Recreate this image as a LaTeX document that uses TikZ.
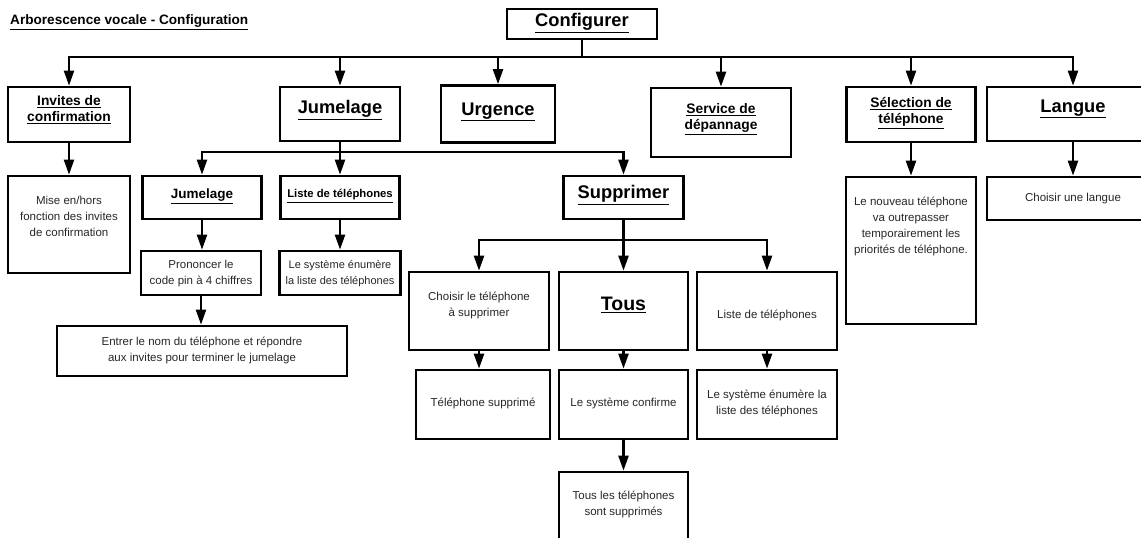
\documentclass[tikz,border=0pt]{standalone}
\usepackage{fontspec}
\setmainfont{Liberation Sans}
\usetikzlibrary{arrows.meta}
\newcommand\mkbox[5]{\node[box, minimum width=#4pt, minimum height=#5pt] (#1) at (#2,#3) {};}
\begin{document}
\begin{tikzpicture}[x=1pt,y=-1pt,
  box/.style={draw, line width=2.7pt, rectangle, inner sep=0pt},
  conn/.style={line width=2.3pt},
  arr/.style={line width=2.3pt, -{Triangle[length=15pt,width=10pt]}},
  big/.style={font=\fontsize{18.3}{20}\selectfont\bfseries, inner sep=0pt},
  mid/.style={font=\fontsize{13.8}{16}\selectfont\bfseries, align=center, inner sep=0pt},
  txt/.style={font=\fontsize{11.5}{16}\selectfont, align=center, text=black!85, inner sep=0pt},
]
\useasboundingbox (0,0) rectangle (1141,538);
\clip (0,0) rectangle (1141,538);

% title
\node[anchor=west, font=\fontsize{13.6}{15}\selectfont\bfseries, inner sep=0pt] (title) at (10,22) {\underline{Arborescence vocale - Configuration}};

% boxes
\mkbox{conf}{582}{24}{150}{30}
\mkbox{inv}{69}{114.5}{122}{55}
\mkbox{jum}{340}{114}{120}{54}
\mkbox{urg}{498}{114}{114}{57}
\mkbox{serv}{721}{122.5}{140}{69}
\mkbox{sel}{911}{114.5}{129}{55}
\mkbox{lang}{1073}{114}{172}{54}
\mkbox{mise}{69}{224.5}{122}{97}
\mkbox{sjum}{202}{197.5}{119}{43}
\mkbox{sliste}{340}{197.5}{119}{43}
\mkbox{supp}{623.5}{197.5}{120}{43}
\mkbox{nouv}{911}{250.5}{130}{147}
\mkbox{clang}{1073}{198.5}{172}{43}
\mkbox{pron}{201}{273}{120}{44}
\mkbox{enum}{340}{273}{121}{44}
\mkbox{entrer}{202}{351}{290}{50}
\mkbox{choisir}{479}{311}{140}{78}
\mkbox{tous}{623.5}{311}{129}{78}
\mkbox{liste2}{767}{311}{140}{78}
\mkbox{tsupp}{483}{404.5}{134}{69}
\mkbox{confirme}{623.5}{404.5}{129}{69}
\mkbox{enum2}{767}{404.5}{140}{69}
\mkbox{tles}{623.5}{520}{129}{96}

% texts
\node[big] (tconf) at (582,23) {\underline{Configurer}};
\node[mid] (tinv) at (69,110) {\underline{Invites de}\\\underline{confirmation}};
\node[big] (tjum) at (340,110) {\underline{Jumelage}};
\node[big] (turg) at (498,112) {\underline{Urgence}};
\node[mid] (tserv) at (721,119) {\underline{Service de}\\\underline{dépannage}};
\node[mid] (tsel) at (911,113) {\underline{Sélection de}\\\underline{téléphone}};
\node[big] (tlang) at (1073,109) {\underline{Langue}};
\node[txt] (tmise) at (69,216) {Mise en/hors\\fonction des invites\\de confirmation};
\node[font=\fontsize{13.5}{15}\selectfont\bfseries, inner sep=0pt] (tsjum) at (202,196) {\underline{Jumelage}};
\node[font=\fontsize{11.3}{13}\selectfont\bfseries, inner sep=0pt] (tsliste) at (340,196) {\underline{Liste de téléphones}};
\node[big] (tsupp2) at (623.5,195) {\underline{Supprimer}};
\node[txt] (tnouv) at (911,226) {Le nouveau téléphone\\va outrepasser\\temporairement les\\priorités de téléphone.};
\node[txt] (tclang) at (1073,199) {Choisir une langue};
\node[txt] (tpron) at (201,274) {Prononcer le\\code pin à 4 chiffres};
\node[txt, font=\fontsize{11}{16}\selectfont] (tenum) at (340,274) {Le système énumère\\la liste des téléphones};
\node[txt] (tentrer) at (202,350) {Entrer le nom du téléphone et répondre\\aux invites pour terminer le jumelage};
\node[txt] (tchoisir) at (479,305) {Choisir le téléphone\\à supprimer};
\node[font=\fontsize{19.5}{21}\selectfont\bfseries, inner sep=0pt] (ttous) at (623.5,305) {\underline{Tous}};
\node[txt] (tliste2) at (767,315) {Liste de téléphones};
\node[txt] (ttsupp) at (483,403) {Téléphone supprimé};
\node[txt] (tconfirme) at (623.5,403) {Le système confirme};
\node[txt] (tenum2) at (767,403) {Le système énumère la\\liste des téléphones};
\node[txt] (ttles) at (623.5,504) {Tous les téléphones\\sont supprimés};

% main bus
\coordinate (b0) at (582,57);
\draw[conn] (conf.south) -- (b0);
\draw[arr] (b0) -| (inv.north);
\draw[arr] (b0) -| (lang.north);
\foreach \n in {jum,urg,serv,sel} {\draw[arr] (b0 -| \n.north) -- (\n.north);}

% Jumelage bus
\coordinate (b1) at (340,152);
\draw[arr] (jum.south) -- (b1) -| (sjum.north);
\draw[arr] (b1) -| (supp.north);
\draw[arr] (b1) -- (sliste.north);

% Supprimer bus
\coordinate (b2) at (623.5,240);
\draw[arr] (supp.south) -- (b2) -| (choisir.north);
\draw[arr] (b2) -| (liste2.north);
\draw[arr] (b2) -- (tous.north);

% vertical arrows
\draw[arr] (inv.south) -- (mise.north);
\draw[arr] (sel.south) -- (sel.south |- nouv.north);
\draw[arr] (lang.south) -- (clang.north);
\draw[arr] (sjum.south) -- (sjum.south |- pron.north);
\draw[arr] (sliste.south) -- (enum.north);
\draw[arr] (pron.south) -- (pron.south |- entrer.north);
\draw[arr] (choisir.south) -- (choisir.south |- tsupp.north);
\draw[arr] (tous.south) -- (confirme.north);
\draw[arr] (liste2.south) -- (enum2.north);
\draw[arr] (confirme.south) -- (tles.north);
\end{tikzpicture}
\end{document}
